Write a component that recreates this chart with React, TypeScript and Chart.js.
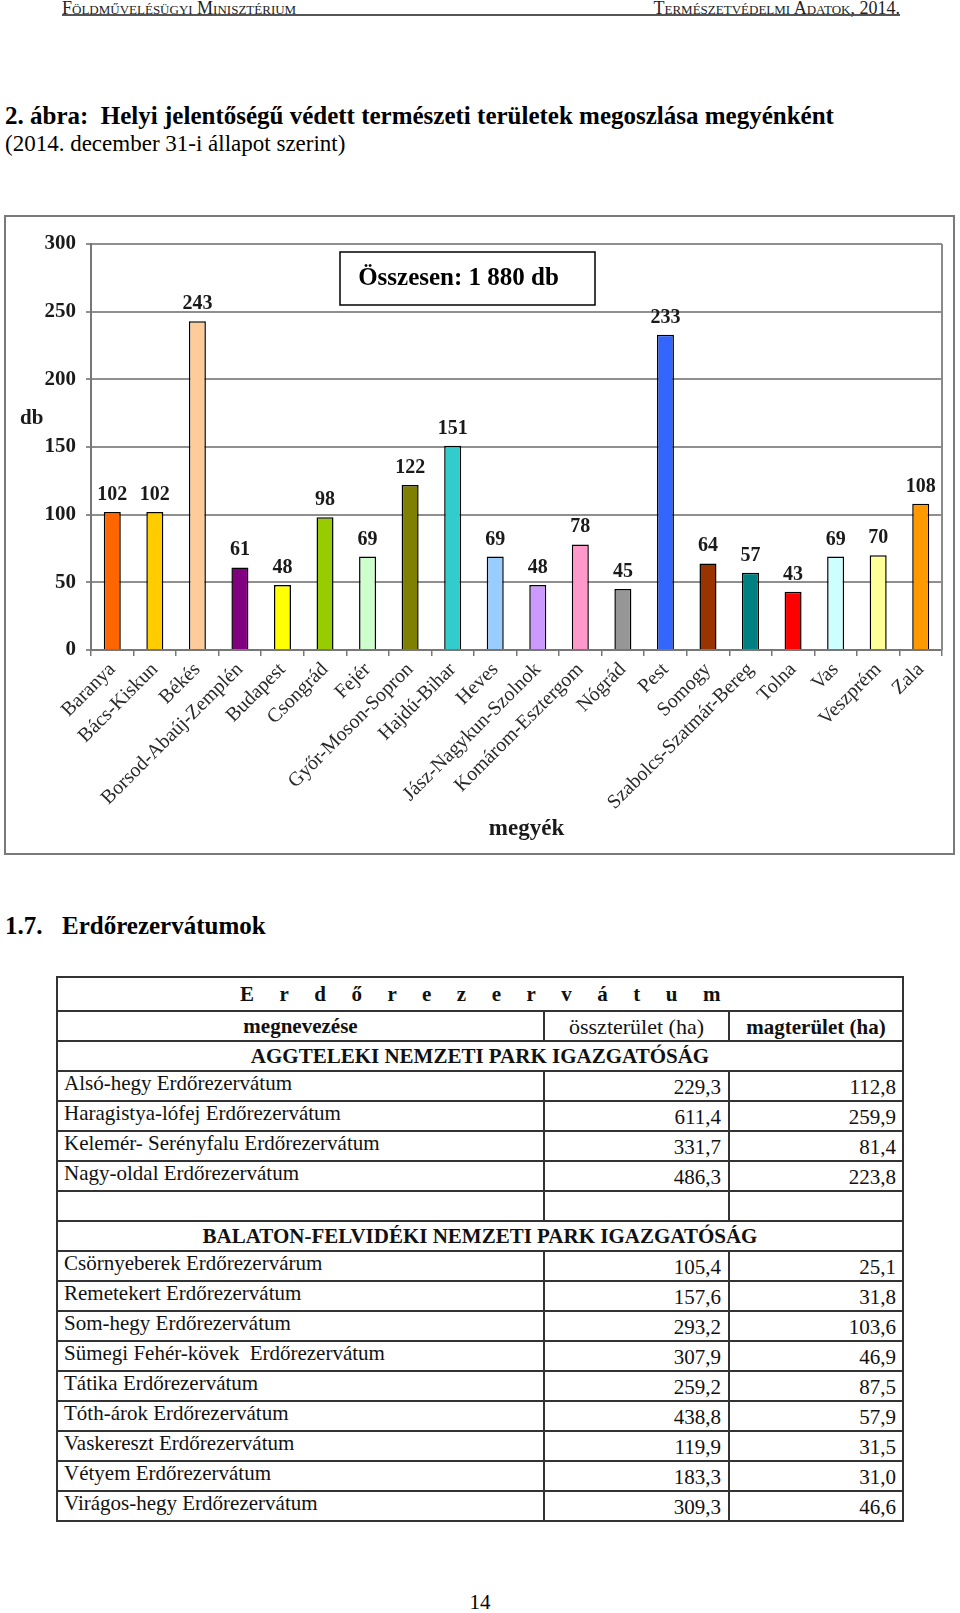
import React, { useEffect, useRef } from 'react';
import { Chart, registerables } from 'chart.js';

Chart.register(...registerables);

const FONT = "'Liberation Serif', 'Times New Roman', serif";

// ---------- chart data ----------
const counties = [
  'Baranya', 'Bács-Kiskun', 'Békés', 'Borsod-Abaúj-Zemplén', 'Budapest', 'Csongrád', 'Fejér',
  'Győr-Moson-Sopron', 'Hajdú-Bihar', 'Heves', 'Jász-Nagykun-Szolnok', 'Komárom-Esztergom',
  'Nógrád', 'Pest', 'Somogy', 'Szabolcs-Szatmár-Bereg', 'Tolna', 'Vas', 'Veszprém', 'Zala',
];
const counts = [102, 102, 243, 61, 48, 98, 69, 122, 151, 69, 48, 78, 45, 233, 64, 57, 43, 69, 70, 108];
const barColors = [
  '#FF6600', '#FFCC00', '#FFCC99', '#800080', '#FFFF00', '#99CC00', '#CCFFCC', '#808000', '#33CCCC', '#99CCFF',
  '#CC99FF', '#FF99CC', '#969696', '#3366FF', '#993300', '#008080', '#FF0000', '#CCFFFF', '#FFFF99', '#FF9900',
];
const yMin = 0;
const yMax = 300;
const yStep = 50;
const yAxisLabel = 'db';
const xAxisLabel = 'megyék';
const totalLabel = 'Összesen: 1 880 db';

// ---------- table data ----------
const tableTitle = 'Erdőrezervátum';
const colHeaders = ['megnevezése', 'összterület (ha)', 'magterület (ha)'];
const aggtelekTitle = 'AGGTELEKI NEMZETI PARK IGAZGATÓSÁG';
const aggtelekNames = [
  'Alsó-hegy Erdőrezervátum',
  'Haragistya-lófej Erdőrezervátum',
  'Kelemér- Serényfalu Erdőrezervátum',
  'Nagy-oldal Erdőrezervátum',
];
const aggtelekTotal = ['229,3', '611,4', '331,7', '486,3'];
const aggtelekCore = ['112,8', '259,9', '81,4', '223,8'];

const balatonTitle = 'BALATON-FELVIDÉKI NEMZETI PARK IGAZGATÓSÁG';
const balatonNames = [
  'Csörnyeberek Erdőrezervárum',
  'Remetekert Erdőrezervátum',
  'Som-hegy Erdőrezervátum',
  'Sümegi Fehér-kövek  Erdőrezervátum',
  'Tátika Erdőrezervátum',
  'Tóth-árok Erdőrezervátum',
  'Vaskereszt Erdőrezervátum',
  'Vétyem Erdőrezervátum',
  'Virágos-hegy Erdőrezervátum',
];
const balatonTotal = ['105,4', '157,6', '293,2', '307,9', '259,2', '438,8', '119,9', '183,3', '309,3'];
const balatonCore = ['25,1', '31,8', '103,6', '46,9', '87,5', '57,9', '31,5', '31,0', '46,6'];

const annotationPlugin = {
  id: 'pageAnnotations',
  afterDatasetsDraw(chart: any) {
    const ctx = chart.ctx;
    const ca = chart.chartArea;
    const yScale = chart.scales.y;
    ctx.save();
    // right frame of plot
    ctx.strokeStyle = '#8a8a8a';
    ctx.lineWidth = 2;
    ctx.beginPath();
    ctx.moveTo(ca.right, ca.top);
    ctx.lineTo(ca.right, ca.bottom);
    ctx.stroke();

    // value labels
    const meta = chart.getDatasetMeta(0);
    ctx.font = `bold 20px ${FONT}`;
    ctx.fillStyle = '#1a1a1a';
    ctx.textAlign = 'center';
    ctx.textBaseline = 'alphabetic';
    meta.data.forEach((bar: any, i: number) => {
      ctx.fillText(String(counts[i]), bar.x, bar.y - 12);
    });

    // horizontal y-axis label
    ctx.font = `bold 21px ${FONT}`;
    ctx.textAlign = 'left';
    ctx.textBaseline = 'middle';
    ctx.fillText(yAxisLabel, 14, yScale.getPixelForValue(171));

    // x-axis title
    ctx.font = `bold 23px ${FONT}`;
    ctx.textAlign = 'center';
    ctx.textBaseline = 'middle';
    ctx.fillText(xAxisLabel, (ca.left + ca.right) / 2 + 10, ca.bottom + 179);

    // total box
    const bx = ca.left + 249;
    const by = ca.top + 8;
    const bw = 255;
    const bh = 53;
    ctx.fillStyle = '#ffffff';
    ctx.fillRect(bx, by, bw, bh);
    ctx.strokeStyle = '#000';
    ctx.lineWidth = 1.5;
    ctx.strokeRect(bx, by, bw, bh);
    ctx.fillStyle = '#000';
    ctx.font = `bold 25px ${FONT}`;
    ctx.textAlign = 'center';
    ctx.textBaseline = 'middle';
    ctx.fillText(totalLabel, bx + bw / 2 - 9, by + bh / 2);
    ctx.restore();
  },
};

function BarChart() {
  const ref = useRef<HTMLCanvasElement | null>(null);
  useEffect(() => {
    if (!ref.current) return;
    const chart = new Chart(ref.current, {
      type: 'bar',
      data: {
        labels: counties,
        datasets: [
          {
            data: counts,
            backgroundColor: barColors,
            borderColor: '#000',
            borderWidth: 1.5,
            barPercentage: 0.4,
            categoryPercentage: 1,
          },
        ],
      },
      options: {
        animation: false,
        responsive: true,
        maintainAspectRatio: false,
        layout: { padding: { left: 0, right: 11, top: 27, bottom: 10 } },
        plugins: { legend: { display: false }, tooltip: { enabled: false } },
        scales: {
          x: {
            afterFit: (s: any) => { s.height = 193; },
            grid: {
              display: true,
              drawOnChartArea: false,
              drawTicks: true,
              tickLength: 6,
              color: '#777',
              lineWidth: 1.5,
            },
            border: { display: true, color: '#777', width: 2 },
            ticks: {
              autoSkip: false,
              maxRotation: 45,
              minRotation: 45,
              padding: 2,
              color: '#2a2a2a',
              font: { family: FONT, size: 20 },
            },
            title: { display: false },
          },
          y: {
            min: yMin,
            max: yMax,
            afterFit: (s: any) => { s.width = 85; },
            ticks: {
              stepSize: yStep,
              padding: 10,
              color: '#1a1a1a',
              font: { family: FONT, size: 21, weight: 'bold' },
            },
            grid: { color: '#8f8f8f', lineWidth: 2, tickLength: 5 },
            border: { display: true, color: '#777', width: 2 },
          },
        },
      },
      plugins: [annotationPlugin],
    } as any);
    return () => chart.destroy();
  }, []);
  return <canvas ref={ref} />;
}

const abs = (left: number, top: number, extra: React.CSSProperties = {}): React.CSSProperties => ({
  position: 'absolute',
  left,
  top,
  margin: 0,
  fontFamily: FONT,
  color: '#000',
  whiteSpace: 'nowrap',
  ...extra,
});

// ---------- table layout (div grid) ----------
const LINE = '2px solid #333';
const COL1 = 485;
const COL2 = 185;

const rowStyle = (h: number, first = false): React.CSSProperties => ({
  display: 'flex',
  height: h,
  boxSizing: 'border-box',
  borderTop: first ? 'none' : LINE,
});

const cell = (w: number | null, extra: React.CSSProperties = {}): React.CSSProperties => ({
  boxSizing: 'border-box',
  width: w === null ? undefined : w,
  flex: w === null ? 1 : 'none',
  fontFamily: FONT,
  fontSize: 21,
  lineHeight: '24px',
  color: '#111',
  whiteSpace: 'pre',
  overflow: 'hidden',
  ...extra,
});

function SpanRow({ text, h = 30, first = false, extra = {} }: { text: string; h?: number; first?: boolean; extra?: React.CSSProperties }) {
  const inner = first ? h : h - 2;
  return (
    <div style={rowStyle(h, first)}>
      <div style={cell(null, { textAlign: 'center', fontWeight: 'bold', lineHeight: `${inner}px`, ...extra })}>{text}</div>
    </div>
  );
}

function DataRows({ names, total, core }: { names: string[]; total: string[]; core: string[] }) {
  return (
    <>
      {names.map((n, i) => (
        <div key={n} style={rowStyle(30)}>
          <div style={cell(COL1, { paddingLeft: 6, marginTop: -1 })}>{n}</div>
          <div style={cell(COL2, { borderLeft: LINE, textAlign: 'right', paddingRight: 7, paddingTop: 3 })}>{total[i]}</div>
          <div style={cell(null, { borderLeft: LINE, textAlign: 'right', paddingRight: 6, paddingTop: 3 })}>{core[i]}</div>
        </div>
      ))}
    </>
  );
}

function ReserveTable() {
  return (
    <div style={{ position: 'absolute', left: 56, top: 976, width: 848, border: LINE, boxSizing: 'border-box', background: '#fff' }}>
      <SpanRow text={tableTitle} h={32} first extra={{ letterSpacing: 25.5, paddingLeft: 26 }} />
      <div style={rowStyle(30)}>
        <div style={cell(COL1, { textAlign: 'center', fontWeight: 'bold', lineHeight: '28px' })}>{colHeaders[0]}</div>
        <div style={cell(COL2, { borderLeft: LINE, textAlign: 'center', fontSize: 22, lineHeight: '30px' })}>{colHeaders[1]}</div>
        <div style={cell(null, { borderLeft: LINE, textAlign: 'center', fontWeight: 'bold', lineHeight: '30px' })}>{colHeaders[2]}</div>
      </div>
      <SpanRow text={aggtelekTitle} />
      <DataRows names={aggtelekNames} total={aggtelekTotal} core={aggtelekCore} />
      <div style={rowStyle(30)}>
        <div style={cell(COL1)} />
        <div style={cell(COL2, { borderLeft: LINE })} />
        <div style={cell(null, { borderLeft: LINE })} />
      </div>
      <SpanRow text={balatonTitle} />
      <DataRows names={balatonNames} total={balatonTotal} core={balatonCore} />
    </div>
  );
}

export default function App() {
  return (
    <div style={{ position: 'absolute', left: 0, top: 0, width: 960, height: 1613, background: '#fff', overflow: 'hidden' }}>
      {/* running header */}
      <div style={abs(62, -2, { fontSize: 18, fontVariant: 'small-caps', lineHeight: '20px', color: '#222' })}>
        Földművelésügyi Minisztérium
      </div>
      <div style={abs(0, -2, { left: 'auto', right: 60, fontSize: 18, fontVariant: 'small-caps', lineHeight: '20px', color: '#222' })}>
        Természetvédelmi Adatok, 2014.
      </div>
      <div style={{ position: 'absolute', left: 62, top: 14, width: 838, height: 2, background: '#555' }} />

      {/* figure title */}
      <div style={abs(5, 101, { fontSize: 25, fontWeight: 'bold', lineHeight: '30px' })}>
        2. ábra:&nbsp; Helyi jelentőségű védett természeti területek megoszlása megyénként
      </div>
      <div style={abs(5, 130, { fontSize: 23, lineHeight: '28px' })}>
        (2014. december 31-i állapot szerint)
      </div>

      {/* chart frame */}
      <div
        style={{
          position: 'absolute',
          left: 4,
          top: 215,
          width: 951,
          height: 640,
          border: '2px solid #7a7a7a',
          boxSizing: 'border-box',
          background: '#fff',
        }}
      >
        <div style={{ position: 'relative', width: 947, height: 636 }}>
          <BarChart />
        </div>
      </div>

      {/* section heading */}
      <div style={abs(5, 911, { fontSize: 25, fontWeight: 'bold', lineHeight: '30px' })}>1.7.</div>
      <div style={abs(62, 911, { fontSize: 25, fontWeight: 'bold', lineHeight: '30px' })}>Erdőrezervátumok</div>

      <ReserveTable />

      {/* page number */}
      <div style={abs(0, 1589, { width: 960, textAlign: 'center', fontSize: 21, lineHeight: '26px' })}>14</div>
    </div>
  );
}
